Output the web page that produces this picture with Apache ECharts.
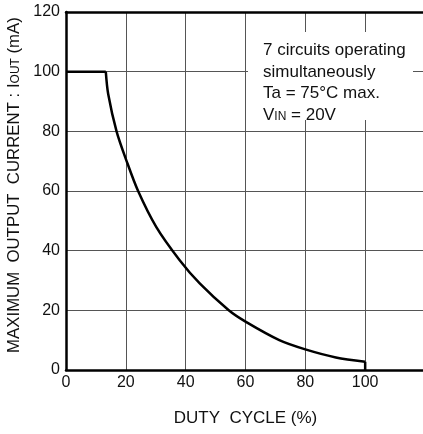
<!DOCTYPE html>
<html>
<head>
<meta charset="utf-8">
<script src="https://cdn.jsdelivr.net/npm/echarts@6/dist/echarts.min.js"></script>
<style>html,body{margin:0;padding:0;background:#fff;}#c{width:423px;height:434px;}</style>
</head>
<body>
<div id="c"></div>
<script>
const xTicks = [0, 20, 40, 60, 80, 100];
const yTicks = [0, 20, 40, 60, 80, 100, 120];
const flatPart = [[0, 100], [13.3, 100]];
const curveDuty = [13.3, 14.1, 16.9, 20.2, 24.1, 30.2, 38, 44.7, 54.4, 60, 71.3, 80, 90.2, 100];
const curveCurrent = [100, 92.5, 80, 70.2, 60, 47.9, 36.8, 29, 20, 16.2, 10, 6.9, 4.2, 2.8];
const dropPart = [[100, 2.8], [100, 0]];
const noteLines = ['7 circuits operating', 'simultaneously', 'Ta = 75\u00B0C max.', 'V{s|IN} = 20V'];

const chart = echarts.init(document.getElementById('c'));
const font = 'Liberation Sans, Arial, sans-serif';
const lineStyle = { color: '#000', width: 2.5 };
chart.setOption({
  backgroundColor: '#fff',
  animation: false,
  grid: { left: 66, top: 12, right: -2, bottom: 64, outerBoundsMode: 'none', containLabel: false, show: false },
  xAxis: [{
    type: 'value', min: 0, max: 120, interval: 20,
    name: 'DUTY  CYCLE (%)', nameLocation: 'middle', nameGap: 40,
    nameTextStyle: { fontFamily: font, fontSize: 17, color: '#111' },
    axisLine: { show: true, onZero: false, lineStyle: { color: '#000', width: 2.5 } },
    axisTick: { show: false },
    axisLabel: { fontFamily: font, fontSize: 16, color: '#111', margin: 5,
      formatter: v => xTicks.indexOf(v) >= 0 ? String(v) : '' },
    splitLine: { show: true, lineStyle: { color: '#555', width: 1 } }
  }, {
    type: 'value', position: 'top', min: 0, max: 120, interval: 20,
    axisLine: { show: true, onZero: false, lineStyle: { color: '#000', width: 2.5 } },
    axisTick: { show: false }, axisLabel: { show: false }, splitLine: { show: false }
  }],
  yAxis: {
    type: 'value', min: 0, max: 120, interval: 20,
    name: 'MAXIMUM  OUTPUT  CURRENT : I{s|OUT} (mA)', nameLocation: 'middle', nameGap: 40,
    nameTextStyle: { fontFamily: font, fontSize: 16.8, color: '#111', padding: [0, 0, 0, 12],
      rich: { s: { fontFamily: font, fontSize: 12, color: '#111', padding: [3, 0, 0, 0] } } },
    axisLine: { show: true, onZero: false, lineStyle: { color: '#000', width: 2.5 } },
    axisTick: { show: false },
    axisLabel: { fontFamily: font, fontSize: 16, color: '#111', margin: 6,
      formatter: v => yTicks.indexOf(v) >= 0 ? String(v) : '' },
    splitLine: { show: true, lineStyle: { color: '#555', width: 1 } }
  },
  series: [
    { type: 'line', data: flatPart, showSymbol: false, lineStyle: lineStyle, z: 3 },
    { type: 'line', data: curveDuty.map((d, i) => [d, curveCurrent[i]]), smooth: 0.3, showSymbol: false, lineStyle: lineStyle, z: 3 },
    { type: 'line', data: dropPart, showSymbol: false, lineStyle: lineStyle, z: 3 }
  ],
  graphic: [
    { type: 'rect', shape: { x: 248, y: 32, width: 165, height: 88 }, style: { fill: '#fff' }, z: 10 },
    { type: 'text', x: 263, y: 40, z: 11,
      style: { text: noteLines.join('\n'), fontFamily: font, fontSize: 17, lineHeight: 21.5, fill: '#111',
        rich: { s: { fontFamily: font, fontSize: 12, fill: '#111', lineHeight: 21.5, padding: [3, 0, 0, 0] } } } }
  ]
});
</script>
</body>
</html>
